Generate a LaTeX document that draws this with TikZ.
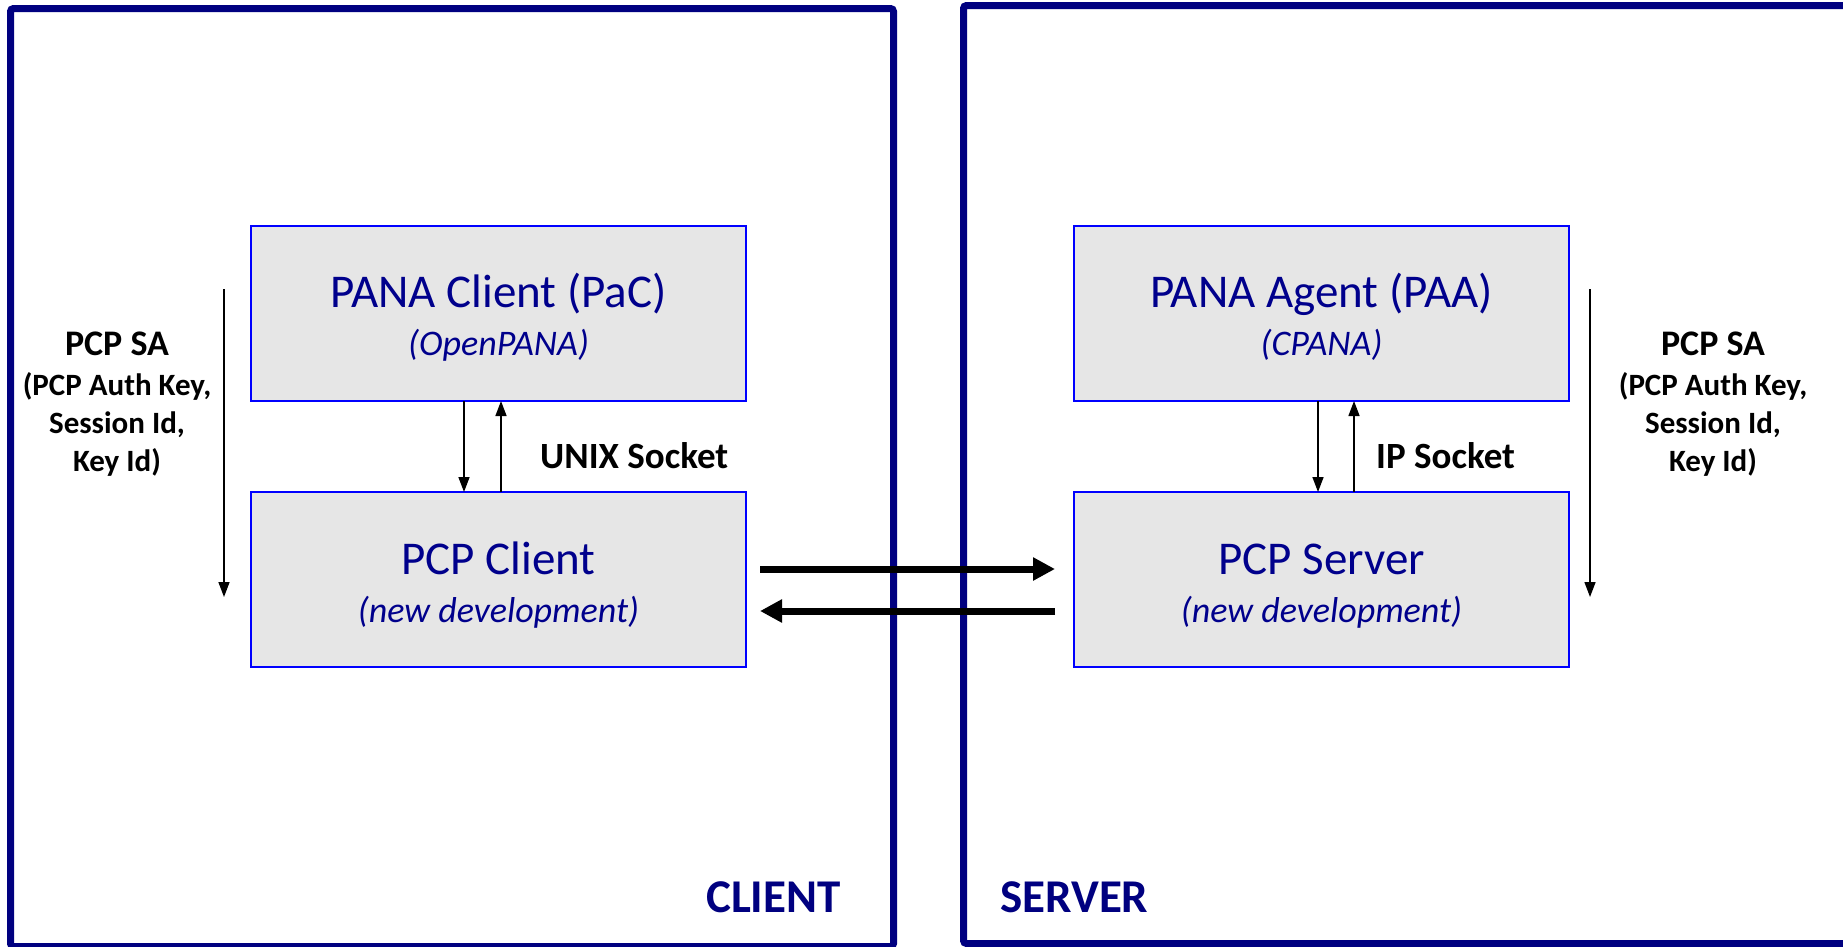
\documentclass[tikz,border=0pt]{standalone}
\usepackage{fontspec}
\setmainfont{Carlito}
\usetikzlibrary{arrows.meta}
\definecolor{framenavy}{RGB}{0,0,128}
\definecolor{boxtext}{RGB}{0,0,140}
\definecolor{boxline}{RGB}{0,0,255}
\definecolor{boxfill}{RGB}{230,230,230}
\tikzset{
  frame/.style={draw=framenavy,line width=7pt,rounded corners=3pt},
  comp/.style={draw=boxline,fill=boxfill,line width=2pt,minimum width=495pt,minimum height=175pt,inner sep=0pt,outer sep=0pt},
  comptitle/.style={anchor=base,inner sep=0pt,text=boxtext,font=\fontsize{47}{56}\selectfont},
  compsub/.style={anchor=base,inner sep=0pt,text=boxtext,font=\fontsize{36}{43}\selectfont\itshape},
  sidetag/.style={anchor=base west,inner sep=0pt,text=framenavy,font=\fontsize{47}{56}\selectfont\bfseries},
  socklabel/.style={anchor=base west,inner sep=0pt,font=\fontsize{37}{44}\selectfont\bfseries},
  sahead/.style={anchor=base,inner sep=0pt,font=\fontsize{36}{43}\selectfont\bfseries},
  saline/.style={anchor=base,inner sep=0pt,font=\fontsize{31}{37}\selectfont\bfseries},
  thin/.style={draw=black,line width=1.5pt,-{Triangle[length=15pt,width=11pt]}},
  thick/.style={draw=black,line width=7pt,-{Triangle[length=22pt,width=22pt]}},
}
\begin{document}
\begin{tikzpicture}[x=1pt,y=-1pt]
\useasboundingbox (0,0) rectangle (1843,946);
\clip (0,0) rectangle (1843,946);
\fill[white] (0,0) rectangle (1843,946);

% host frames
\draw[frame] (10.5,8.5) rectangle (893.5,946.5);
\draw[frame] (963.5,5.5) rectangle (1900,943.5);
\node[sidetag] (clienttag) at (706,912) {CLIENT};
\node[sidetag] (servertag) at (1000,912) {SERVER};

% client side components
\node[comp] (pac) at (498.5,313.5) {};
\node[comptitle] (pactitle) at (498.5,307) {PANA Client (PaC)};
\node[compsub] (pacsub) at (498.5,355) {(OpenPANA)};
\node[comp] (pcpc) at (498.5,579.5) {};
\node[comptitle] (pcpctitle) at (498.5,574) {PCP Client};
\node[compsub] (pcpcsub) at (498.5,622) {(new development)};

% server side components
\node[comp] (paa) at (1321.5,313.5) {};
\node[comptitle] (paatitle) at (1321.5,307) {PANA Agent (PAA)};
\node[compsub] (paasub) at (1321.5,355) {(CPANA)};
\node[comp] (pcps) at (1321.5,579.5) {};
\node[comptitle] (pcpstitle) at (1321.5,574) {PCP Server};
\node[compsub] (pcpssub) at (1321.5,622) {(new development)};

% local sockets
\draw[thin] ([xshift=-34.5pt]pac.south) -- ([xshift=-34.5pt]pcpc.north);
\draw[thin] ([xshift=2.5pt]pcpc.north) -- ([xshift=2.5pt]pac.south);
\node[socklabel] (unixsock) at (540,468) {UNIX Socket};
\draw[thin] ([xshift=-3.5pt]paa.south) -- ([xshift=-3.5pt]pcps.north);
\draw[thin] ([xshift=32.5pt]pcps.north) -- ([xshift=32.5pt]paa.south);
\node[socklabel] (ipsock) at (1376,468) {IP Socket};

% security association labels
\coordinate (saLtop) at (224,289);
\coordinate (saLbot) at (224,597);
\draw[thin] (saLtop) -- (saLbot);
\node[sahead] (saL1) at (117,355) {PCP SA};
\node[saline] (saL2) at (117,395) {(PCP Auth Key,};
\node[saline] (saL3) at (117,433) {Session Id,};
\node[saline] (saL4) at (117,471) {Key Id)};
\coordinate (saRtop) at (1590,289);
\coordinate (saRbot) at (1590,597);
\draw[thin] (saRtop) -- (saRbot);
\node[sahead] (saR1) at (1713,355) {PCP SA};
\node[saline] (saR2) at (1713,395) {(PCP Auth Key,};
\node[saline] (saR3) at (1713,433) {Session Id,};
\node[saline] (saR4) at (1713,471) {Key Id)};

% PCP messages between hosts
\draw[thick] ([xshift=14pt,yshift=10.5pt]pcpc.east) -- ([xshift=-19pt,yshift=10.5pt]pcps.west);
\draw[thick] ([xshift=-19pt,yshift=-31.5pt]pcps.west) -- ([xshift=14pt,yshift=-31.5pt]pcpc.east);
\end{tikzpicture}
\end{document}
